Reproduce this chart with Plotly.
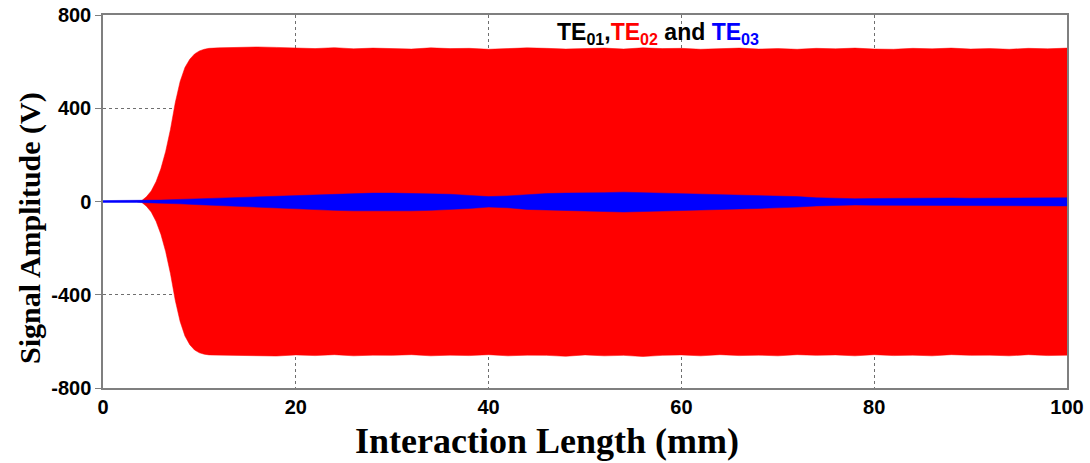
import plotly.graph_objects as go

# Interaction length (mm) at which the envelopes were sampled
red_x = [0, 3.5, 4, 4.5, 5, 5.5, 6, 6.5, 7, 7.5, 8, 8.5, 9, 9.5, 10, 10.5, 11, 12,
         14, 16, 18, 20, 22, 24, 26, 28, 30, 32, 34, 36, 38, 40, 42, 44, 46, 48,
         50, 52, 54, 56, 58, 60, 62, 64, 66, 68, 70, 72, 74, 76, 78, 80, 82, 84,
         86, 88, 90, 92, 94, 96, 98, 100]
# TE02 signal envelope (V)
red_upper = [0, 0, 3, 20, 45, 85, 140, 215, 310, 425, 515, 575, 610, 633, 646, 653, 657, 659,
             662, 663, 661, 658, 656, 660, 655, 658, 657, 654, 659, 656, 657, 653, 656, 659,
             657, 654, 656, 658, 654, 659, 656, 657, 653, 656, 658, 654, 656, 653, 657, 655,
             658, 654, 653, 657, 655, 658, 654, 656, 653, 657, 655, 658]
red_lower = [0, 0, -3, -20, -45, -85, -140, -215, -310, -425, -515, -577, -614, -637, -649, -655, -658, -659,
             -660, -662, -663, -658, -661, -657, -662, -659, -660, -657, -662, -659, -661, -657, -662, -659,
             -660, -664, -658, -662, -660, -665, -660, -658, -662, -657, -661, -659, -662, -657, -660, -658,
             -662, -657, -661, -659, -662, -657, -660, -659, -662, -657, -661, -659]

blue_x = [0, 3.5, 4, 5, 6, 8, 10, 12, 14, 16, 18, 20, 22, 24, 26, 28, 30, 32, 34, 36,
          38, 40, 42, 44, 46, 48, 50, 52, 54, 56, 58, 60, 62, 64, 66, 68, 70, 72, 74,
          76, 78, 80, 82, 85, 88, 90, 92, 95, 98, 100]
# TE03 signal envelope (V)
blue_upper = [4, 4, 4, 5, 6, 9, 12, 15, 18, 21, 24, 27, 30, 33, 35, 36, 36, 35, 34, 31,
              26, 21, 24, 30, 34, 36, 36, 38, 40, 38, 36, 35, 33, 31, 29, 27, 25, 21, 16,
              13, 12, 13, 14, 14, 15, 14, 15, 15, 16, 16]
blue_lower = [-4, -4, -4, -5, -7, -10, -14, -17, -20, -24, -27, -31, -35, -38, -40, -41, -41, -40, -38, -35,
              -30, -24, -27, -34, -38, -40, -41, -43, -45, -43, -41, -39, -37, -35, -32, -30, -28, -24, -19,
              -16, -15, -16, -17, -17, -18, -17, -18, -18, -19, -19]

x_ticks = [0, 20, 40, 60, 80, 100]
y_ticks = [-800, -400, 0, 400, 800]

fig = go.Figure()

fig.add_trace(go.Scatter(
    x=red_x + red_x[::-1],
    y=red_upper + red_lower[::-1],
    fill="toself", fillcolor="#ff0000",
    line=dict(color="#ff0000", width=0.5),
    mode="lines", hoverinfo="skip", showlegend=False,
))
fig.add_trace(go.Scatter(
    x=blue_x + blue_x[::-1],
    y=blue_upper + blue_lower[::-1],
    fill="toself", fillcolor="#0000ff",
    line=dict(color="#0000ff", width=0.5),
    mode="lines", hoverinfo="skip", showlegend=False,
))

tick_font = dict(family="Liberation Sans, Arial", size=20, color="black", weight="bold")

fig.update_xaxes(
    range=[0, 100], tickvals=x_ticks, ticktext=[str(v) for v in x_ticks],
    showline=True, mirror=True, linecolor="#7f7f7f", linewidth=1.5,
    ticks="", showgrid=True, gridcolor="#6f6f6f", gridwidth=1, griddash="dot",
    zeroline=False, tickfont=tick_font, automargin=False,
)
fig.update_yaxes(
    range=[-800, 800], tickvals=y_ticks, ticktext=[str(v) for v in y_ticks],
    showline=True, mirror=True, linecolor="#7f7f7f", linewidth=1.5,
    ticks="outside", ticklen=6, tickcolor="#7f7f7f",
    showgrid=True, gridcolor="#6f6f6f", gridwidth=1, griddash="dot",
    zeroline=False, tickfont=tick_font, automargin=False,
)

fig.add_annotation(
    text="Interaction Length (mm)", xref="paper", yref="paper",
    x=(547 - 103) / 964, y=0, yshift=-53, xanchor="center", yanchor="middle",
    showarrow=False,
    font=dict(family="Liberation Serif, Times New Roman", size=36, color="black", weight="bold"),
)
fig.add_annotation(
    text="Signal Amplitude (V)", xref="paper", yref="paper",
    x=0, y=(388 - 228) / 373, xshift=-73, xanchor="center", yanchor="middle",
    textangle=-90, showarrow=False,
    font=dict(family="Liberation Serif, Times New Roman", size=30, color="black", weight="bold"),
)
fig.add_annotation(
    text=("TE<sub>01</sub>,<span style='color:#ff0000'>TE<sub>02</sub></span>"
          " and <span style='color:#0000ff'>TE<sub>03</sub></span>"),
    xref="paper", yref="paper", x=(658 - 103) / 964, y=1, yshift=-18,
    xanchor="center", yanchor="middle", showarrow=False,
    font=dict(family="Liberation Sans, Arial", size=23, color="black", weight="bold"),
)

fig.update_layout(
    width=1090, height=463,
    margin=dict(l=103, r=23, t=15, b=75),
    plot_bgcolor="white", paper_bgcolor="white",
    showlegend=False,
)

fig.write_html("out.html")
